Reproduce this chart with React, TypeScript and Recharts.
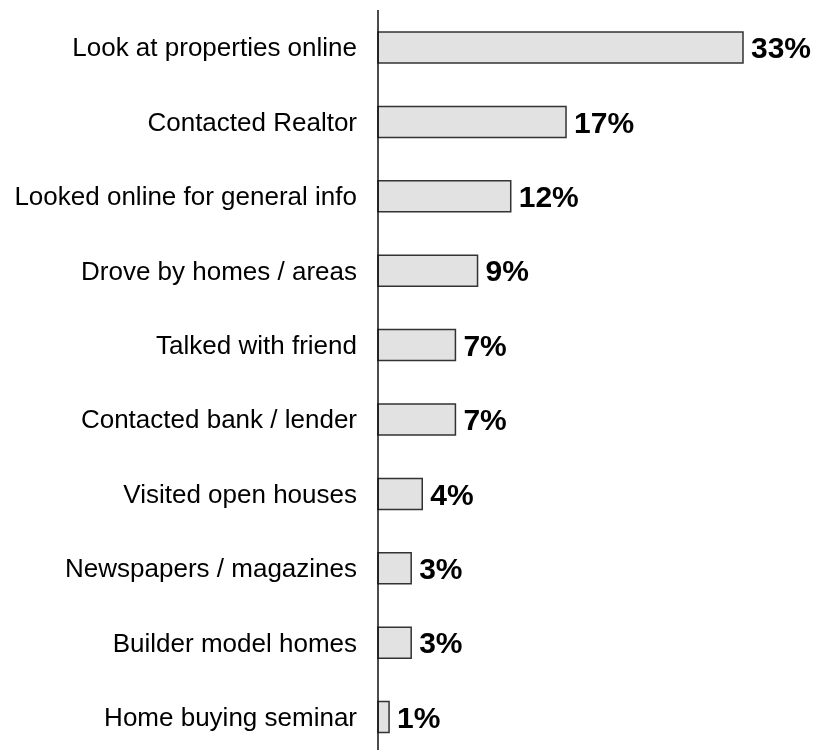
import React from "react";
import { BarChart, Bar, XAxis, YAxis, LabelList } from "recharts";

const categories = [
  "Look at properties online",
  "Contacted Realtor",
  "Looked online for general info",
  "Drove by homes / areas",
  "Talked with friend",
  "Contacted bank / lender",
  "Visited open houses",
  "Newspapers / magazines",
  "Builder model homes",
  "Home buying seminar",
];
const values = [33, 17, 12, 9, 7, 7, 4, 3, 3, 1];

const data = categories.map((name, i) => ({ name, value: values[i] }));

export default function App() {
  return (
    <div style={{ position: "fixed", top: 0, left: 0 }}>
      <BarChart
        width={818}
        height={760}
        data={data}
        layout="vertical"
        margin={{ top: 10, right: 75, bottom: 6, left: 0 }}
        barCategoryGap={0}
      >
        <XAxis type="number" domain={[0, 33]} hide />
        <YAxis
          type="category"
          dataKey="name"
          width={378}
          tickLine={false}
          tickSize={0}
          tickMargin={21}
          axisLine={{ stroke: "#111", strokeWidth: 1.5 }}
          tick={{ fill: "#000", fontSize: 26, fontFamily: "Liberation Sans, Arial, sans-serif" }}
          interval={0}
        />
        <Bar
          dataKey="value"
          fill="#e2e2e2"
          stroke="#333"
          strokeWidth={1.5}
          barSize={31}
          isAnimationActive={false}
        >
          <LabelList
            dataKey="value"
            position="right"
            offset={8}
            formatter={(v: number) => `${v}%`}
            style={{ fill: "#000", fontSize: 30, fontWeight: "bold", fontFamily: "Liberation Sans, Arial, sans-serif" }}
          />
        </Bar>
      </BarChart>
    </div>
  );
}
